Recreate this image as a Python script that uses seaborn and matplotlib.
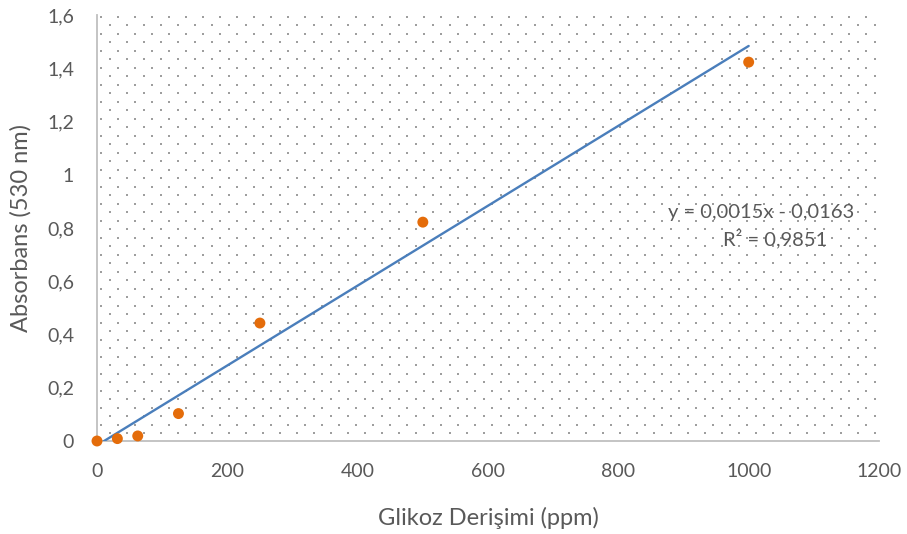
import numpy as np
import pandas as pd
import matplotlib
matplotlib.use("Agg")
import matplotlib.pyplot as plt
import seaborn as sns
from matplotlib.ticker import FixedLocator, FuncFormatter

# ---- data ----
concentration = [0, 31.25, 62.5, 125, 250, 500, 1000]
absorbance = [0.0, 0.009, 0.019, 0.103, 0.443, 0.822, 1.423]
trend_slope = 0.0015
trend_intercept = -0.0163
trend_x = [0, 1000]
equation_label = "y = 0,0015x - 0,0163"
r2_label = "R² = 0,9851"
x_ticks = [0, 200, 400, 600, 800, 1000, 1200]
y_ticks = [0, 0.2, 0.4, 0.6, 0.8, 1.0, 1.2, 1.4, 1.6]
x_title = "Glikoz Derişimi (ppm)"
y_title = "Absorbans (530 nm)"

sns.set_theme(style="white")
plt.rcParams["font.family"] = ["Lato", "DejaVu Sans"]

text_color = "#595959"
W, H, DPI = 907, 534, 100
fig = plt.figure(figsize=(W / DPI, H / DPI), dpi=DPI)
fig.patch.set_facecolor("white")

left, right, top, bottom = 97, 879, 15, 441
ax = fig.add_axes([left / W, (H - bottom) / H, (right - left) / W, (bottom - top) / H])
ax.set_facecolor("none")

# dotted pattern fill of the plot area (Excel-style pattern)
pw, ph = right - left, bottom - top
pattern = np.zeros((ph, pw, 4))
rows = np.arange(ph)[:, None]
cols = np.arange(pw)[None, :]
typeA = ((rows - 1) % 17 < 2) & ((cols - 3) % 17 < 2)
typeB = ((rows - 9) % 17 < 2) & ((cols - 12) % 17 < 2)
mask = typeA | typeB
grey = np.array([0.62, 0.62, 0.62, 1.0])
pattern[mask] = grey
fig.figimage(pattern[::-1], xo=left, yo=H - bottom, origin="lower", zorder=-1)

# trendline
df_trend = pd.DataFrame({"x": trend_x})
df_trend["y"] = trend_slope * df_trend["x"] + trend_intercept
sns.lineplot(data=df_trend, x="x", y="y", ax=ax, color="#4A7EBB", linewidth=1.7, zorder=3)

# data points
df = pd.DataFrame({"x": concentration, "y": absorbance})
sns.scatterplot(data=df, x="x", y="y", ax=ax, color="#E46C0A", s=62,
                edgecolor="none", zorder=4, clip_on=False)

ax.set_xlim(0, 1200)
ax.set_ylim(0, 1.6)
ax.xaxis.set_major_locator(FixedLocator(x_ticks))
ax.yaxis.set_major_locator(FixedLocator(y_ticks))

def fmt(v, pos):
    s = f"{v:.1f}".rstrip("0").rstrip(".")
    return s.replace(".", ",")

ax.xaxis.set_major_formatter(FuncFormatter(lambda v, p: f"{int(v)}"))
ax.yaxis.set_major_formatter(FuncFormatter(fmt))

ax.tick_params(axis="both", length=0, labelsize=14, colors=text_color)
ax.tick_params(axis="y", pad=16.5)
ax.tick_params(axis="x", pad=16)

for s in ["top", "right"]:
    ax.spines[s].set_visible(False)
for s in ["left", "bottom"]:
    ax.spines[s].set_color("#BFBFBF")
    ax.spines[s].set_linewidth(1.3)

ax.set_xlabel(x_title, fontsize=17, color=text_color, labelpad=19)
ax.set_ylabel(y_title, fontsize=17, color=text_color, labelpad=11)

ax.text(1019, 0.86, equation_label, ha="center", va="center",
        fontsize=14.5, color=text_color, zorder=5)
ax.text(1040, 0.759, r2_label, ha="center", va="center",
        fontsize=14.5, color=text_color, zorder=5)

fig.savefig("out.png", dpi=DPI, facecolor="white")
